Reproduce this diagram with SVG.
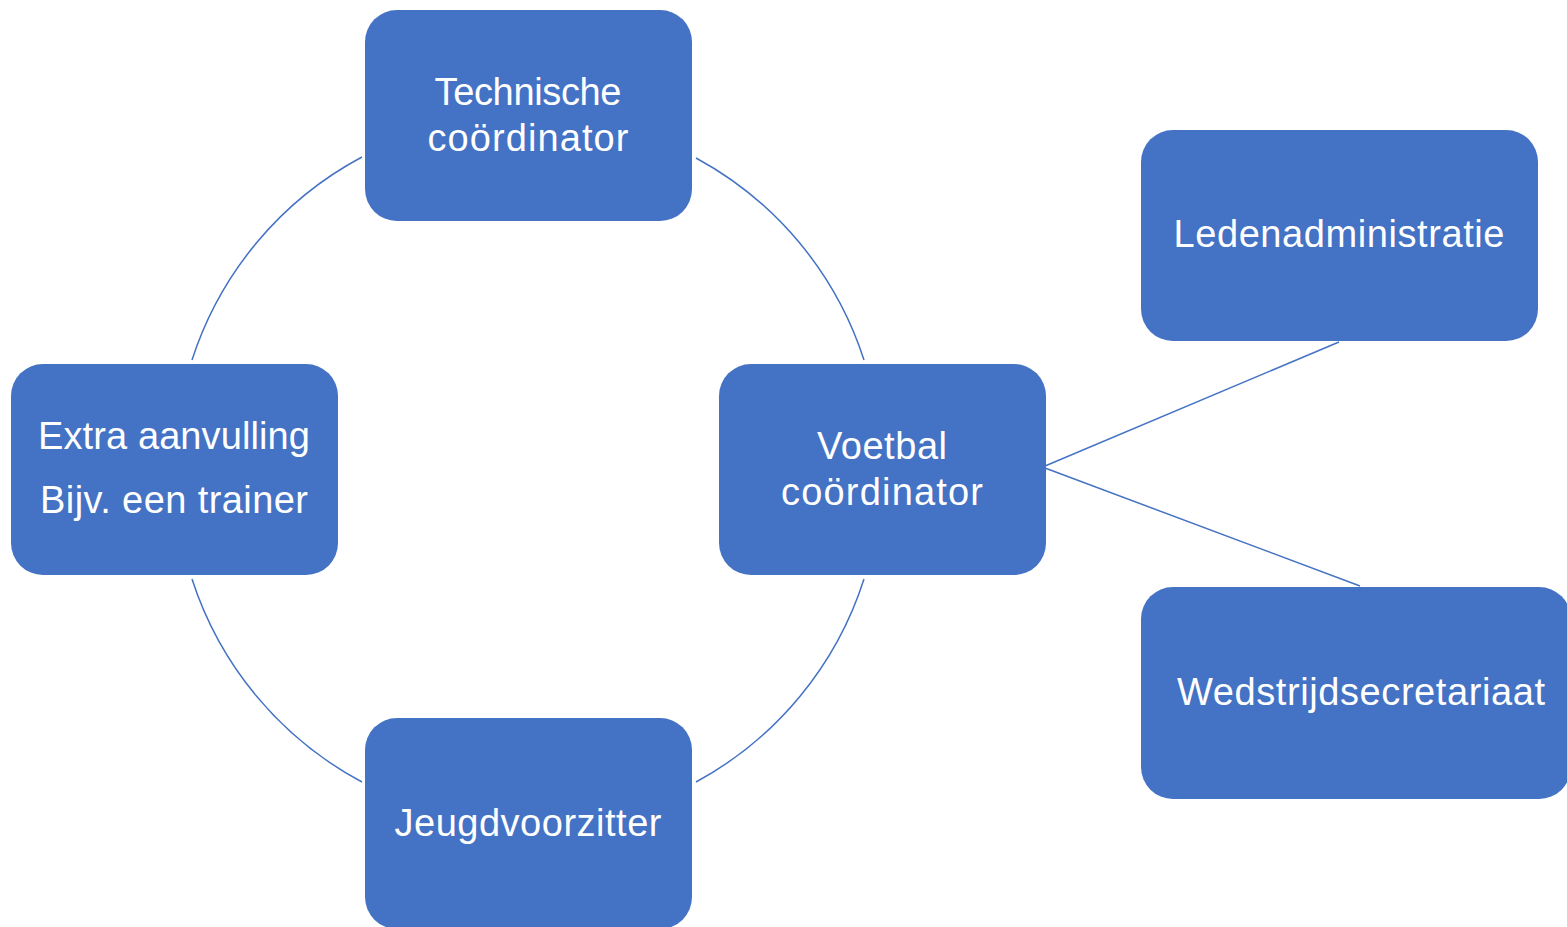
<svg xmlns="http://www.w3.org/2000/svg" width="1567" height="927" viewBox="0 0 1567 927">
<style>
.box{fill:#4472C4;}
.lbl{fill:#FFFFFF;font-family:"Liberation Sans","Noto Sans",Arial,sans-serif;font-size:38px;text-anchor:middle;}
.con{fill:none;stroke:#4472C4;stroke-width:1.5;}
</style>
<rect width="1567" height="927" fill="#FFFFFF"/>
<g id="connectors">
<path class="con" d="M192,360 A353,353 0 0 1 362,157"/>
<path class="con" d="M696,158 A353,353 0 0 1 864,360"/>
<path class="con" d="M864,579 A353,353 0 0 1 696,782"/>
<path class="con" d="M362,782 A353,353 0 0 1 192,579"/>
<line class="con" x1="1045" y1="466" x2="1339" y2="342"/>
<line class="con" x1="1045" y1="468" x2="1360" y2="586"/>
</g>
<g id="technische">
<rect class="box" x="365" y="10" width="327" height="211" rx="32"/>
<text class="lbl" x="528" y="105" textLength="187" lengthAdjust="spacing">Technische</text>
<text class="lbl" x="528" y="151" textLength="201" lengthAdjust="spacing">coördinator</text>
</g>
<g id="extra">
<rect class="box" x="11" y="364" width="327" height="211" rx="32"/>
<text class="lbl" x="174" y="449" textLength="272" lengthAdjust="spacing">Extra aanvulling</text>
<text class="lbl" x="174" y="513" textLength="268" lengthAdjust="spacing">Bijv. een trainer</text>
</g>
<g id="voetbal">
<rect class="box" x="719" y="364" width="327" height="211" rx="32"/>
<text class="lbl" x="882" y="459" textLength="130" lengthAdjust="spacing">Voetbal</text>
<text class="lbl" x="882" y="505" textLength="202" lengthAdjust="spacing">coördinator</text>
</g>
<g id="jeugd">
<rect class="box" x="365" y="718" width="327" height="211" rx="32"/>
<text class="lbl" x="528" y="836" textLength="267" lengthAdjust="spacing">Jeugdvoorzitter</text>
</g>
<g id="leden">
<rect class="box" x="1141" y="130" width="397" height="211" rx="32"/>
<text class="lbl" x="1339" y="247" textLength="331" lengthAdjust="spacing">Ledenadministratie</text>
</g>
<g id="wedstrijd">
<rect class="box" x="1141" y="587" width="430" height="212" rx="32"/>
<text class="lbl" x="1361" y="705" textLength="368" lengthAdjust="spacing">Wedstrijdsecretariaat</text>
</g>
</svg>
